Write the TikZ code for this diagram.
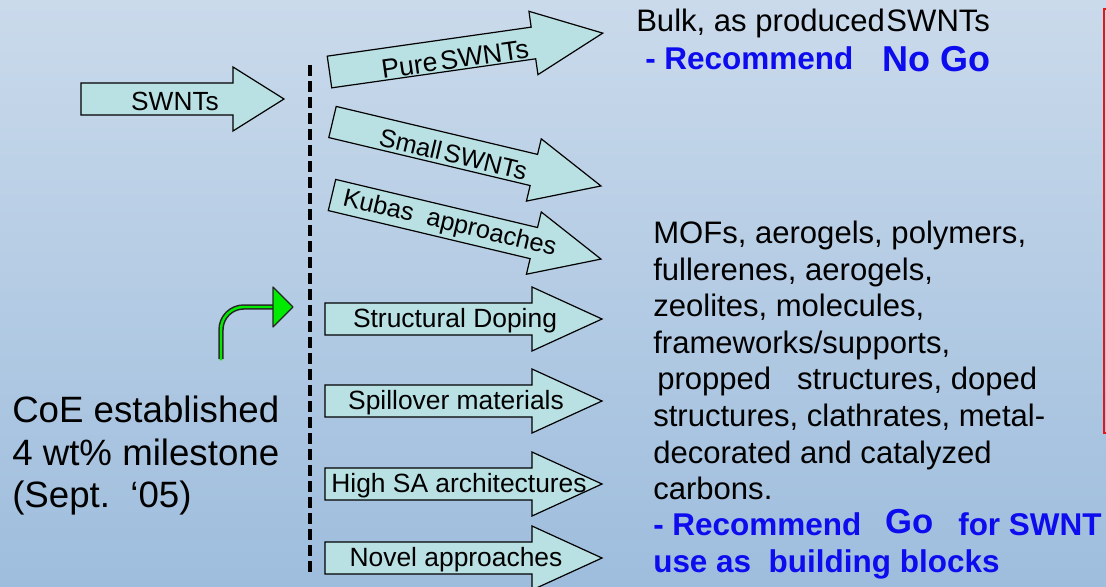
\documentclass[tikz,border=0pt]{standalone}
\usepackage{fontspec}
\setmainfont{Liberation Sans}
\definecolor{bgtop}{RGB}{202,218,235}
\definecolor{bgbot}{RGB}{158,189,221}
\definecolor{arrfill}{RGB}{185,224,227}
\definecolor{gogreen}{RGB}{0,235,0}
\definecolor{goblue}{RGB}{12,12,238}
\definecolor{boxred}{RGB}{235,20,20}
\tikzset{
  arrowbox/.style={draw=black, fill=arrfill, line width=0.9pt, line join=miter},
  arrowlabel/.style={inner sep=0pt, anchor=center},
  rtext/.style={anchor=base west, inner sep=0pt, font=\fontsize{23.3}{27}\selectfont},
  btext/.style={anchor=base west, inner sep=0pt, text=goblue, font=\bfseries\fontsize{23.6}{27}\selectfont},
  coetext/.style={anchor=base west, inner sep=0pt, font=\fontsize{27.5}{33}\selectfont},
}
% #1 name, #2 tail x, #3 tail y, #4 angle, #5 length, #6 head length, #7 label pos (along,perp), #8 font size, #9 text
\newcommand{\blockarrow}[9]{%
  \begin{scope}[shift={(#2,#3)},rotate=#4]
    \draw[arrowbox] (0,-16) -- ({#5-#6},-16) -- ({#5-#6},-32) -- (#5,0) -- ({#5-#6},32) -- ({#5-#6},16) -- (0,16) -- cycle;
    \node[arrowlabel,rotate=#4,font=\fontsize{#8}{#8}\selectfont] (#1) at (#7) {#9};
  \end{scope}}
\begin{document}
\begin{tikzpicture}[x=0.75pt,y=-0.75pt]
\useasboundingbox (0,0) rectangle (1106,586);
\clip (0,0) rectangle (1106,586);
\shade[top color=bgtop, bottom color=bgbot] (0,0) rectangle (1106,586);

% red frame (partly visible)
\draw[boxred, line width=1.8pt] (1104,9) rectangle (1130,433);

% dashed divider
\coordinate (dtop) at (310,65);
\coordinate (dbot) at (310,576);
\draw[line width=3pt, dash pattern=on 8.25pt off 3.75pt] (dtop) -- (dbot);

% block arrows
\blockarrow{swnts}{81}{99}{0}{203}{51}{94,2}{19.7}{SWNTs}
\blockarrow{pure}{329.5}{72}{8.1}{276}{70}{126,5}{20}{Pure\hspace{0.12em}SWNTs}
\blockarrow{small}{332.5}{122}{-13.4}{276}{69}{125,3}{19}{Small\hspace{0.12em}SWNTs}
\blockarrow{kubas}{332}{195}{-13.4}{276.5}{69}{121,1}{19}{Kubas\ \ approaches}
\blockarrow{doping}{325}{319}{0}{277}{70}{130,2}{19.8}{Structural Doping}
\blockarrow{spill}{325}{401}{0}{277}{70}{131,2}{19.8}{Spillover materials}
\blockarrow{highsa}{325}{484}{0}{277}{70}{134,2}{19.8}{High SA architectures}
\blockarrow{novel}{325}{558}{0}{277}{70}{131,2}{19.8}{Novel approaches}

% green bent arrow
\coordinate (gs) at (221,359);
\coordinate (gc) at (221,307);
\coordinate (ge) at (275,307);
\draw[line width=4.1pt, black!85, rounded corners=17pt] (gs) -- (gc) -- (ge);
\draw[line width=1.8pt, gogreen, rounded corners=17pt] ([yshift=-1pt]gs) -- (gc) -- (ge);
\draw[fill=gogreen, draw=black!85, line width=0.9pt, line join=round] (273,287) -- (293,307) -- (273,327) -- cycle;

% left text
\node[coetext] (coe1) at (12,422) {CoE established};
\node[coetext] (coe2) at (12,465) {4 wt\% milestone};
\node[coetext] (coe3) at (12,507) {(Sept.\ \ ‘05)};

% top right text
\node[rtext] (bulk) at (636,31) {Bulk, as produced\hspace{0.05em}SWNTs};
\node[btext] (rec1) at (645,69) {- Recommend};
\node[btext, font=\bfseries\fontsize{27}{31}\selectfont] (nogo) at (882,71) {No Go};

% lower right text
\node[rtext] (l1) at (653,243) {MOFs, aerogels, polymers,};
\node[rtext] (l2) at (653,280) {fullerenes, aerogels,};
\node[rtext] (l3) at (653,316) {zeolites, molecules,};
\node[rtext] (l4) at (653,353) {frameworks/supports,};
\node[rtext] (l5) at (657,389) {propped\ \ \ structures, doped};
\node[rtext] (l6) at (653,426) {structures, clathrates, metal-};
\node[rtext] (l7) at (653,463) {decorated and catalyzed};
\node[rtext] (l8) at (653,499) {carbons.};
\node[btext] (rec2) at (653,535) {- Recommend};
\node[btext, font=\bfseries\fontsize{26}{30}\selectfont] (go) at (885,533) {Go};
\node[btext] (forswnt) at (958,535) {for SWNT};
\node[btext] (use) at (653,572) {use as\ \ building blocks};
\end{tikzpicture}
\end{document}
